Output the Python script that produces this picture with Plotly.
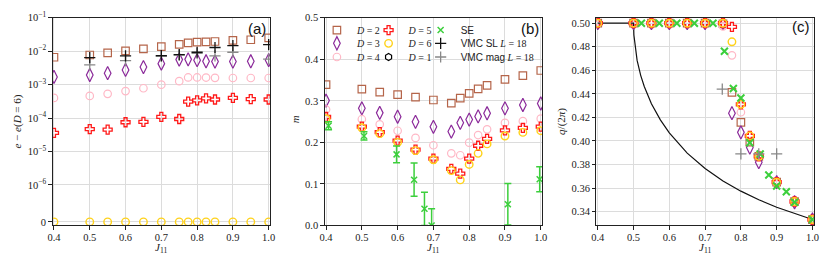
import plotly.graph_objects as go

W, H = 831, 266

# ---------------- data ----------------
J = [0.4, 0.5, 0.55, 0.6, 0.65, 0.7, 0.75, 0.775, 0.8, 0.825, 0.85, 0.9, 0.95, 1.0]

# (a) energy differences e - e(D=6)
de_D2 = [6.6e-3, 7.7e-3, 8.9e-3, 1.02e-2, 1.17e-2, 1.37e-2, 1.6e-2, 1.78e-2, 1.86e-2, 1.9e-2, 1.95e-2, 2.1e-2, 2.2e-2, 2.5e-2]
de_D3 = [1.7e-3, 1.94e-3, 2.2e-3, 2.75e-3, 3.35e-3, 4.25e-3, 5.6e-3, 5.7e-3, 5.4e-3, 5.0e-3, 4.9e-3, 4.9e-3, 5.0e-3, 5.4e-3]
de_D4 = [4.0e-4, 4.6e-4, 5.3e-4, 6.4e-4, 7.8e-4, 1.0e-3, 1.27e-3, 1.64e-3, 1.64e-3, 1.63e-3, 1.6e-3, 1.58e-3, 1.58e-3, 1.58e-3]
de_D5 = [3.6e-5, 4.65e-5, 4.5e-5, 7.5e-5, 7.7e-5, 1.09e-4, 9.4e-5, 3.1e-4, 3.4e-4, 3.9e-4, 3.6e-4, 4.0e-4, 3.7e-4, 3.6e-4]
de_D6 = [0, 0, 0, 0, 0, 0, 0, 0, 0, 0, 0, 0, 0, 0]
J_vmc_a = [0.5, 0.6, 0.7, 0.75, 0.8, 0.85, 0.9, 1.0]
de_vmc_sl = [6.4e-3, 7.2e-3, 7.4e-3, 7.9e-3, 9.3e-3, 1.29e-2, 1.47e-2, 1.58e-2]
de_vmc_mag = [3.9e-3, 5.2e-3, 7.0e-3, 7.6e-3, 8.6e-3, 7.2e-3, 9.3e-3, 5.8e-3]

# (b) magnetization m
m_D2 = [0.339, 0.328, 0.321, 0.315, 0.309, 0.302, 0.2945, 0.3066, 0.318, 0.3288, 0.337, 0.3516, 0.3607, 0.373]
m_D3 = [0.3005, 0.282, 0.271, 0.2617, 0.2495, 0.2374, 0.226, 0.247, 0.2548, 0.2625, 0.27, 0.282, 0.29, 0.2936]
m_D4 = [0.279, 0.2557, 0.2434, 0.228, 0.2107, 0.193, 0.1735, 0.169, 0.1993, 0.2176, 0.2313, 0.247, 0.251, 0.257]
m_D5 = [0.261, 0.238, 0.2244, 0.204, 0.1826, 0.161, 0.136, 0.1247, 0.161, 0.1918, 0.2084, 0.229, 0.235, 0.238]
m_D6 = [0.257, 0.235, 0.221, 0.200, 0.180, 0.158, 0.132, 0.1096, 0.1468, 0.1735, 0.1963, 0.2153, 0.224, 0.228]
J_se_b = [0.407, 0.506, 0.597, 0.646, 0.675, 0.695, 0.908, 0.997]
m_se = [0.240, 0.2155, 0.171, 0.110, 0.040, 0.0, 0.051, 0.111]
m_se_err = [0.0095, 0.0098, 0.02, 0.04, 0.04, 0.04, 0.05, 0.03]

# (c) pitch q/(2pi)
q_D2 = [0.5, 0.5, 0.5, 0.5, 0.5, 0.5, 0.4995, 0.4413, 0.4158, 0.399, 0.387, 0.365, 0.3486, 0.3333]
q_D3 = [0.5, 0.5, 0.5, 0.5, 0.5, 0.5, 0.5, 0.4236, 0.4073, 0.3944, 0.382, 0.365, 0.348, 0.3333]
q_D4 = [0.5, 0.5, 0.5, 0.5, 0.5, 0.5, 0.4973, 0.4727, 0.4244, 0.4043, 0.387, 0.365, 0.348, 0.3333]
q_D5 = [0.5, 0.5, 0.5, 0.5, 0.5, 0.5, 0.5, 0.4968, 0.4311, 0.4043, 0.387, 0.365, 0.3486, 0.3333]
q_D6 = [0.5, 0.5, 0.5, 0.5, 0.5, 0.5, 0.5, 0.4842, 0.4311, 0.4043, 0.387, 0.365, 0.3486, 0.3333]
J_se_c = [0.522, 0.572, 0.621, 0.670, 0.722, 0.754, 0.779, 0.8, 0.825, 0.854, 0.878, 0.9, 0.927, 0.95, 1.0]
q_se = [0.5, 0.5, 0.5, 0.5, 0.5, 0.4762, 0.4445, 0.4365, 0.3985, 0.389, 0.3711, 0.3617, 0.3569, 0.348, 0.3333]
J_vmc_c = [0.748, 0.8, 0.85, 0.9]
q_vmc_mag = [0.444, 0.389, 0.389, 0.389]
J_cl = [0.4, 0.5, 0.501, 0.505, 0.51, 0.52, 0.53, 0.55, 0.575, 0.6, 0.65, 0.7, 0.75, 0.8, 0.85, 0.9, 0.95, 1.0]
q_cl = [0.5, 0.5, 0.4899, 0.4776, 0.4684, 0.4557, 0.4462, 0.4316, 0.4179, 0.4068, 0.3897, 0.3766, 0.3661, 0.3574, 0.3501, 0.3437, 0.3382, 0.3333]

x_tickvals = [0.4, 0.5, 0.6, 0.7, 0.8, 0.9, 1.0]
x_ticktext = ["0.4", "0.5", "0.6", "0.7", "0.8", "0.9", "1.0"]
a_tickvals_exp = [-6, -5, -4, -3, -2, -1]
b_tickvals = [0.0, 0.1, 0.2, 0.3, 0.4, 0.5]
c_tickvals = [0.34, 0.36, 0.38, 0.40, 0.42, 0.44, 0.46, 0.48, 0.50]

# ---------------- styling ----------------
SERIF = "Liberation Serif"
SANS = "Liberation Sans"
C_D2 = "#b5654a"
C_D3 = "#8b2a9a"
C_D4 = "#ffb8c6"
C_D5 = "#ff1a1a"
C_D6 = "#ffd21a"
C_SE = "#3ccf3c"
C_SL = "#111111"
C_MAG = "#888888"

ZERO_POS = 10 ** -7.105   # where the symlog "0" sits on the log axis

def px_x(p):
    return p / W

def px_y(p):
    return 1 - p / H

top, bottom = 10.3, 229.5
panels = {
    "a": (48.3, 268.3),
    "b": (323.7, 543.7),
    "c": (598.7, 818.7),
}

fig = go.Figure()

def mk(symbol, color, size, lw=1.2):
    return dict(symbol=symbol, size=size, color=color, line=dict(color=color, width=lw))

st = {
    "D2": mk("square-open", C_D2, 7.5),
    "D3": mk("diamond-tall-open", C_D3, 9.5),
    "D4": mk("circle-open", C_D4, 7.5),
    "D5": mk("cross-open", C_D5, 7.5, 1.3),
    "D6": mk("circle-open", C_D6, 7.5, 1.4),
    "D1": mk("hexagon-open", "#000000", 7),
}
leg_names = {
    "D2": "<i>D</i> = 2", "D3": "<i>D</i> = 3", "D4": "<i>D</i> = 4",
    "D5": "<i>D</i> = 5", "D6": "<i>D</i> = 6", "D1": "<i>D</i> = 1",
}
def sans(t):
    return f"<span style='font-family:{SANS}'>{t}</span>"

# legend slots: (legend id, column, row)
leg_cols = [341.7, 394.0, 446.7]   # symbol centre x (px)
leg_rows = [23.3, 37.3, 51.7]      # row centre y (px)
slot = {
    "D2": ("legend", 0, 0), "D3": ("legend2", 0, 1), "D4": ("legend3", 0, 2),
    "D5": ("legend4", 1, 0), "D6": ("legend5", 1, 1), "D1": ("legend6", 1, 2),
    "SE": ("legend7", 2, 0), "SL": ("legend8", 2, 1), "MAG": ("legend9", 2, 2),
}

# ---- panel (b) ----
bdata = {"D2": m_D2, "D3": m_D3, "D4": m_D4, "D5": m_D5, "D6": m_D6}
for key in ["D2", "D3", "D4", "D5", "D6"]:
    fig.add_trace(go.Scatter(x=J, y=bdata[key], mode="markers", marker=st[key],
                             name=leg_names[key], legend=slot[key][0],
                             xaxis="x2", yaxis="y2", showlegend=True))
fig.add_trace(go.Scatter(x=J_se_b, y=m_se, mode="markers", name=sans("SE"), legend=slot["SE"][0],
                         marker=dict(symbol="x-thin-open", size=6, color=C_SE,
                                     line=dict(color=C_SE, width=1.5)),
                         error_y=dict(type="data", array=m_se_err, color=C_SE,
                                      thickness=1.5, width=3.5),
                         xaxis="x2", yaxis="y2", showlegend=True))
# D = 1 has no point inside any of the plotted ranges; it only appears in the key
fig.add_trace(go.Scatter(x=[None], y=[None], mode="markers", marker=st["D1"], name=leg_names["D1"],
                         legend=slot["D1"][0], xaxis="x2", yaxis="y2", showlegend=True))

# ---- panel (a) ----
adata = {"D2": de_D2, "D3": de_D3, "D4": de_D4, "D5": de_D5, "D6": de_D6}
for key in ["D2", "D3", "D4", "D5", "D6"]:
    yv = [v if v > 0 else ZERO_POS for v in adata[key]]
    fig.add_trace(go.Scatter(x=J, y=yv, mode="markers", marker=st[key],
                             xaxis="x", yaxis="y", showlegend=False))
fig.add_trace(go.Scatter(x=J_vmc_a, y=de_vmc_mag, mode="markers",
                         name=sans("VMC mag") + " <i>L</i> = 18", legend=slot["MAG"][0],
                         marker=dict(symbol="cross-thin-open", size=8, color=C_MAG,
                                     line=dict(color=C_MAG, width=1.3)),
                         xaxis="x", yaxis="y", showlegend=True))
fig.add_trace(go.Scatter(x=J_vmc_a, y=de_vmc_sl, mode="markers",
                         name=sans("VMC SL") + " <i>L</i> = 18", legend=slot["SL"][0],
                         marker=dict(symbol="cross-thin-open", size=8, color=C_SL,
                                     line=dict(color=C_SL, width=1.3)),
                         xaxis="x", yaxis="y", showlegend=True))

# ---- panel (c) ----
fig.add_trace(go.Scatter(x=J_cl, y=q_cl, mode="lines", line=dict(color="#111111", width=1.2),
                         xaxis="x3", yaxis="y3", showlegend=False))
cdata = {"D2": q_D2, "D3": q_D3, "D4": q_D4, "D5": q_D5, "D6": q_D6}
for key in ["D2", "D3", "D4", "D5", "D6"]:
    fig.add_trace(go.Scatter(x=J, y=cdata[key], mode="markers", marker=st[key],
                             xaxis="x3", yaxis="y3", showlegend=False))
fig.add_trace(go.Scatter(x=J_se_c, y=q_se, mode="markers",
                         marker=dict(symbol="x-thin-open", size=7, color=C_SE,
                                     line=dict(color=C_SE, width=2)),
                         xaxis="x3", yaxis="y3", showlegend=False))
fig.add_trace(go.Scatter(x=J_vmc_c, y=q_vmc_mag, mode="markers",
                         marker=dict(symbol="cross-thin-open", size=8, color=C_MAG,
                                     line=dict(color=C_MAG, width=1.3)),
                         xaxis="x3", yaxis="y3", showlegend=False))

# ---------------- axes ----------------
axcommon = dict(showline=True, mirror=True, linecolor="#222222", linewidth=1,
                ticks="outside", ticklen=3.5, tickwidth=1, tickcolor="#222222",
                showgrid=True, gridcolor="#dcdcdc", gridwidth=1, zeroline=False,
                tickfont=dict(family=SERIF, size=10.5, color="#222222"))
xaxcommon = dict(axcommon, ticklabelstandoff=-2)
xr = [0.3965, 1.0039]
ydom = [px_y(bottom), px_y(top)]
layout = dict(
    width=W, height=H, margin=dict(l=0, r=0, t=0, b=0),
    paper_bgcolor="white", plot_bgcolor="white",
    xaxis=dict(domain=[px_x(panels["a"][0]), px_x(panels["a"][1])], range=xr,
               tickvals=x_tickvals, ticktext=x_ticktext, anchor="y", **xaxcommon),
    yaxis=dict(domain=ydom, type="log", range=[-7.21, -1],
               tickvals=[ZERO_POS] + [10 ** e for e in a_tickvals_exp],
               ticktext=["0"] + [f"10<sup>−{-e}</sup>" for e in a_tickvals_exp],
               anchor="x", **axcommon),
    xaxis2=dict(domain=[px_x(panels["b"][0]), px_x(panels["b"][1])], range=xr,
                tickvals=x_tickvals, ticktext=x_ticktext, anchor="y2", **xaxcommon),
    yaxis2=dict(domain=ydom, range=[0, 0.5], tickvals=b_tickvals,
                ticktext=[f"{v:.1f}" for v in b_tickvals], anchor="x2", **axcommon),
    xaxis3=dict(domain=[px_x(panels["c"][0]), px_x(panels["c"][1])], range=xr,
                tickvals=x_tickvals, ticktext=x_ticktext, anchor="y3", **xaxcommon),
    yaxis3=dict(domain=ydom, range=[0.3283, 0.5046], tickvals=c_tickvals,
                ticktext=[f"{v:.2f}" for v in c_tickvals], anchor="x3", **axcommon),
    showlegend=True,
)
# a legend entry draws its symbol 20 px and its text 40 px right of the legend's left edge
for key, (lid, col, row) in slot.items():
    layout[lid] = dict(
        x=px_x(leg_cols[col] - 26), y=px_y(leg_rows[row]), xanchor="left", yanchor="middle",
        bgcolor="rgba(255,255,255,0)", borderwidth=0, itemwidth=30,
        font=dict(family=SERIF, size=10, color="#222222"),
    )
fig.update_layout(**layout)

ann = []
title_font = dict(family=SERIF, size=11, color="#222222")
def add_ann(x, y, text, font, angle=0):
    ann.append(dict(x=px_x(x), y=px_y(y), xref="paper", yref="paper", text=text,
                    showarrow=False, font=font, textangle=angle,
                    xanchor="center", yanchor="middle"))
add_ann(13, 120, "<i>e</i> − <i>e</i>(<i>D</i> = 6)", title_font, -90)
add_ann(293, 117, "<i>m</i>", title_font, -90)
add_ann(563, 120, "<i>q</i>/(2<i>π</i>)", title_font, -90)
for k in ["a", "b", "c"]:
    cx = (panels[k][0] + panels[k][1]) / 2
    add_ann(cx, 253, "<i>J</i><sub>11</sub>", title_font)
lab_font = dict(family=SANS, size=15, color="#111111")
add_ann(255.5, 21.5, "(a)", lab_font)
add_ann(531, 21.5, "(b)", lab_font)
add_ann(805.5, 20, "(c)", lab_font)
fig.update_layout(annotations=ann)

fig.write_html("out.html", config={"displayModeBar": False},
               post_script="document.body.style.margin='0';document.body.style.overflow='hidden';")
